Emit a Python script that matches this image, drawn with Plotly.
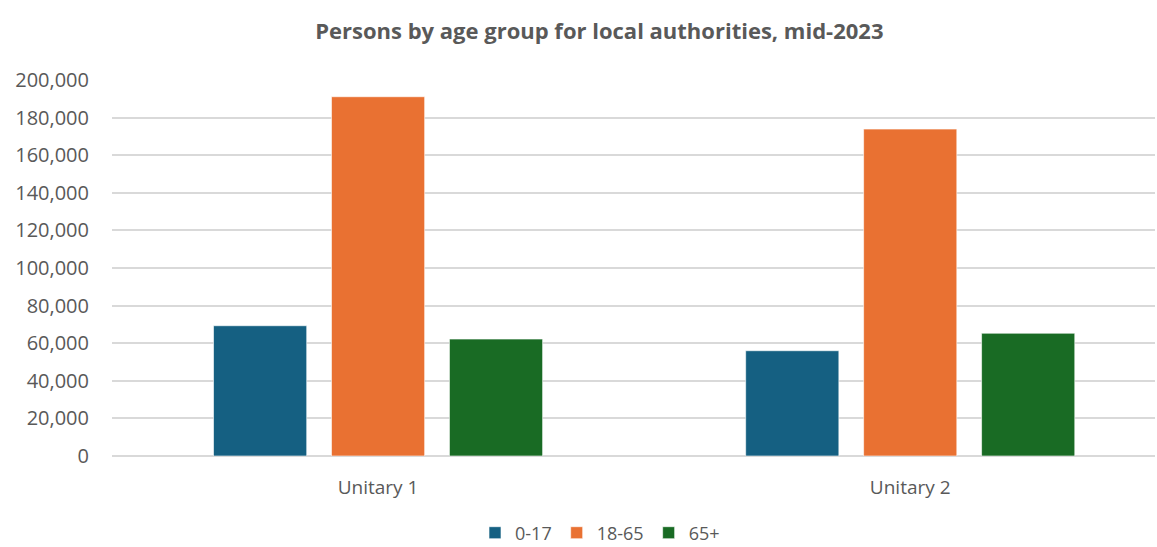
import plotly.graph_objects as go

categories = ["Unitary 1", "Unitary 2"]
series_names = ["0-17", "18-65", "65+"]
values_0_17 = [69300, 56000]
values_18_65 = [191100, 173900]
values_65_plus = [62200, 65300]
colors = ["#156082", "#E97132", "#196B24"]
y_tickvals = [0, 20000, 40000, 60000, 80000, 100000, 120000, 140000, 160000, 180000, 200000]

fig = go.Figure()
for name, vals, col in zip(series_names, [values_0_17, values_18_65, values_65_plus], colors):
    fig.add_trace(go.Bar(
        x=categories, y=vals, name=name,
        marker=dict(color=col, line=dict(color="rgba(255,255,255,0.6)", width=1)),
    ))

font_family = "Open Sans, Liberation Sans, Arial, sans-serif"
fig.update_layout(
    width=1157, height=547,
    margin=dict(l=112, r=2, t=80, b=91, autoexpand=False),
    paper_bgcolor="white", plot_bgcolor="white",
    barmode="group", bargap=0.335, bargroupgap=0.21,
    title=dict(
        text="<b>Persons by age group for local authorities, mid-2023</b>",
        x=0.518, xanchor="center", xref="container",
        y=1 - 31 / 547, yanchor="middle", yref="container",
        font=dict(family=font_family, size=22, color="#595959"),
    ),
    font=dict(family=font_family, size=18, color="#595959"),
    xaxis=dict(
        range=[-0.5, 1.46],
        showgrid=False, showline=False, zeroline=False, ticks="",
        tickfont=dict(size=19, color="#595959"),
        ticklabelstandoff=18, automargin=False,
    ),
    yaxis=dict(
        range=[0, 200000], tickvals=y_tickvals, tickformat=",",
        showgrid=True, gridcolor="#D9D9D9", gridwidth=1.5,
        zeroline=True, zerolinecolor="#D9D9D9", zerolinewidth=1.5,
        showline=False, ticks="",
        tickfont=dict(size=20, color="#595959"),
        ticklabelstandoff=22, automargin=False,
    ),
    legend=dict(
        orientation="h", x=600 / 1157, xanchor="center", xref="container",
        y=1 - 533 / 547, yanchor="middle", yref="container",
        font=dict(size=18, color="#595959"), itemwidth=30,
        traceorder="normal",
    ),
)

post = (
    "document.documentElement.style.overflow='hidden';"
    "document.body.style.margin='0';document.body.style.overflow='hidden';"
)
fig.write_html("out.html", post_script=post)
